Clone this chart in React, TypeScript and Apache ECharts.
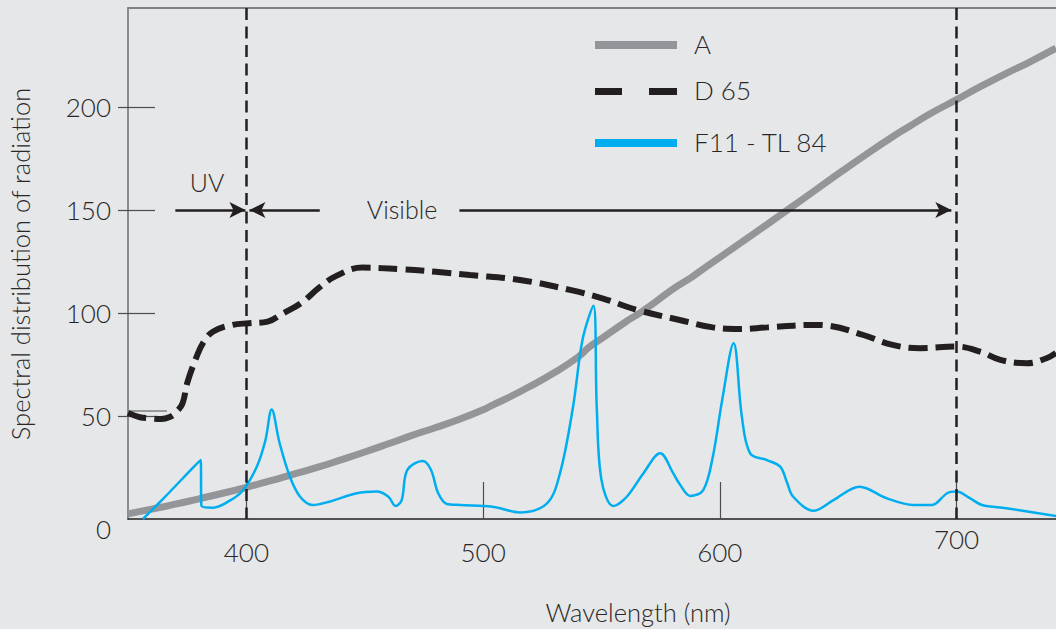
import React, { useEffect, useRef } from 'react';
import * as echarts from 'echarts';

// ---- data ----
const X_TICKS = [400, 500, 600, 700];
const Y_LABELS = [0, 50, 100, 150, 200];
const Y_TICKS = [50, 100, 150, 200];

const A_WAVELENGTHS = [350, 360, 370, 380, 390, 400, 410, 420, 431, 440, 450, 460, 470, 480, 490, 500, 504, 510, 520, 530, 540, 545, 550, 560, 566, 570, 580, 588, 594.5, 600, 610, 620, 628, 640, 651, 660, 672, 680, 689, 700, 710, 721, 730, 742];
const A_VALUES = [2.5, 4.8, 7.2, 9.8, 12.5, 15.4, 18.5, 21.8, 25.4, 28.7, 32.5, 36.5, 40.6, 44.4, 48.4, 53, 55.3, 58.5, 64.5, 71, 78.5, 83.6, 87.5, 95.5, 99.8, 103, 111.5, 117.3, 122.6, 127, 135, 143, 149.5, 159.3, 168.3, 175.5, 184.8, 190.5, 196.8, 203.5, 209.8, 216.3, 221.3, 228.5];

const D65_WAVELENGTHS = [350, 355, 360, 364, 368, 370, 373, 375, 379, 382, 386, 394, 401, 409, 415.5, 423, 431, 438, 449, 466, 480, 494.5, 515.6, 536.7, 550.7, 565, 583, 597, 608.6, 620, 639.5, 646.6, 660.6, 673, 684.6, 700, 710, 718.5, 729.7, 738, 742];
const D65_VALUES = [51.5, 49.4, 48.8, 48.5, 49.7, 51.5, 56, 66, 78.8, 86, 91, 94.2, 95, 95.8, 99.8, 104.7, 112.5, 118, 122, 121.2, 120, 118.4, 116, 111.2, 107, 101.5, 96.6, 93, 92.2, 93, 94.2, 93.7, 89.3, 84.5, 82.9, 83.7, 81.2, 77.2, 75.6, 78, 80.6];

const F11_WAVELENGTHS = [356.3, 365, 380.7, 381, 386, 393, 398.6, 404.4, 408, 410.7, 414, 418.4, 422.7, 428, 435, 446.6, 455, 460, 463, 465.6, 468, 474.5, 478, 481, 484.7, 490.3, 504, 515.6, 527, 532.5, 538, 542, 546.6, 548, 550, 555, 560.7, 567.6, 574.8, 580.4, 583, 587.5, 593, 597, 601, 605.8, 609.3, 612.8, 619.9, 625.5, 628.3, 631, 639.6, 648, 659, 670.6, 681.8, 689.6, 696, 700, 705.8, 710.7, 721, 742];
const F11_VALUES = [0, 10, 28.6, 6.5, 5.5, 8.9, 14, 25.4, 38, 53.2, 37, 20.5, 10.8, 6.8, 8.4, 12.5, 13.3, 10.8, 6.3, 9.2, 23.8, 28.1, 23.8, 12.6, 7.3, 6.8, 6, 3.2, 7.6, 22.3, 54.5, 87, 103.5, 54.5, 19, 6.3, 10.8, 22, 31.9, 22, 17, 11.2, 14, 30, 57.8, 85.3, 49.7, 31.9, 28.6, 25.4, 18, 10.8, 4, 9.2, 15.7, 10, 6.8, 6.8, 12.5, 13.3, 10, 6.8, 5.2, 1.5];

const SERIES_NAMES = ['A', 'D 65', 'F11 - TL 84'];
const UV_BOUNDARY = 400;
const VISIBLE_END = 700;
const ARROW_LEVEL = 150;

const FONT = 'Lato, "Open Sans", "Noto Sans", sans-serif';
const TEXT = '#2a2627';
const GREY = '#939598';
const BLACK = '#231f20';
const CYAN = '#00aeef';

const pairs = (xs: number[], ys: number[]) => xs.map((x, i) => [x, ys[i]]);

export default function App() {
  const ref = useRef<HTMLDivElement>(null);
  useEffect(() => {
    document.body.style.margin = '0';
    const chart = echarts.init(ref.current!, null, { renderer: 'svg' });
    const base = { fontSize: 26, fontFamily: FONT, fontWeight: 300, color: TEXT };
    const yLabelRich = {
      n: { ...base },
      z: { ...base, padding: [19, 0, 0, 0] },
    };
    const xLabelRich = {
      hi: { ...base },
      lo: { ...base, padding: [13, 0, 0, 0] },
    };
    const txt = (text: string, x: number, y: number, size: number, align = 'left', extra: any = {}) => ({
      type: 'text', x, y, ...extra,
      style: { text, fontSize: size, fontFamily: FONT, fontWeight: 300, fill: TEXT, align, verticalAlign: 'middle' },
    });
    const option: any = {
      animation: false,
      backgroundColor: '#e6e7e8',
      grid: { left: 128, right: 0, top: 8, bottom: 110, containLabel: false },
      xAxis: [
        {
          type: 'value', min: 350, max: 742, position: 'bottom',
          axisLine: { show: true, onZero: false, lineStyle: { color: BLACK, width: 1.5 } },
          axisTick: { show: true, inside: true, length: 37, customValues: X_TICKS, lineStyle: { color: '#4d4d4f', width: 1.2 } },
          axisLabel: {
            customValues: X_TICKS, margin: 7,
            formatter: (v: number) => (v === 700 ? `{hi|${v}}` : `{lo|${v}}`),
            rich: xLabelRich,
          },
          splitLine: { show: false },
        },
        {
          type: 'value', min: 350, max: 742, position: 'top',
          axisLine: { show: true, onZero: false, lineStyle: { color: '#808285', width: 2 } },
          axisTick: { show: false }, axisLabel: { show: false }, splitLine: { show: false },
        },
      ],
      yAxis: [
        {
          type: 'value', min: 0, max: 248, position: 'left',
          axisLine: { show: true, onZero: false, lineStyle: { color: '#6d6e71', width: 1.5 } },
          axisTick: { show: true, inside: true, length: 27, customValues: Y_TICKS, lineStyle: { color: '#4d4d4f', width: 1.2 } },
          axisLabel: {
            customValues: Y_LABELS, margin: 17,
            formatter: (v: number) => (v === 0 ? `{z|0}` : `{n|${v}}`),
            rich: yLabelRich,
          },
          splitLine: { show: false },
        },
        {
          type: 'value', min: 0, max: 248, position: 'left',
          axisLine: { show: false, onZero: false },
          axisTick: { show: true, inside: false, length: 10, customValues: Y_TICKS, lineStyle: { color: '#4d4d4f', width: 1.2 } },
          axisLabel: { show: false }, splitLine: { show: false },
        },
      ],
      series: [
        {
          type: 'line', name: 'guides', data: [], z: 1, silent: true,
          markLine: {
            silent: true, symbol: 'none', label: { show: false },
            lineStyle: { color: BLACK, width: 2.5, type: [12, 6.5] },
            data: [
              [{ coord: [UV_BOUNDARY, 248] }, { coord: [UV_BOUNDARY, 0] }],
              [{ coord: [VISIBLE_END, 248] }, { coord: [VISIBLE_END, 0] }],
            ],
          },
        },
        {
          type: 'line', name: 'arrows', data: [], z: 1, silent: true,
          markLine: {
            silent: true, symbol: ['none', 'arrow'], symbolSize: [12, 16], label: { show: false },
            lineStyle: { color: BLACK, width: 2.5, type: 'solid' },
            data: [
              [{ coord: [370, ARROW_LEVEL] }, { coord: [399.6, ARROW_LEVEL] }],
              [{ coord: [431, ARROW_LEVEL] }, { coord: [401.3, ARROW_LEVEL] }],
              [{ coord: [490, ARROW_LEVEL] }, { coord: [697.8, ARROW_LEVEL] }],
            ],
          },
        },
        {
          type: 'line', name: SERIES_NAMES[0], data: pairs(A_WAVELENGTHS, A_VALUES), z: 2,
          smooth: 0.5, showSymbol: false, symbol: 'none',
          lineStyle: { color: GREY, width: 7 },
        },
        {
          type: 'line', name: SERIES_NAMES[1], data: pairs(D65_WAVELENGTHS, D65_VALUES), z: 3,
          smooth: 0.4, showSymbol: false, symbol: 'none',
          lineStyle: { color: BLACK, width: 6, type: [19, 8] },
        },
        {
          type: 'line', name: SERIES_NAMES[2], data: pairs(F11_WAVELENGTHS, F11_VALUES), z: 4,
          smooth: 0.35, showSymbol: false, symbol: 'none',
          lineStyle: { color: CYAN, width: 2.5 },
        },
      ],
      graphic: [
        // legend
        { type: 'line', shape: { x1: 595, y1: 45, x2: 677, y2: 45 }, style: { stroke: GREY, lineWidth: 8 } },
        { type: 'line', shape: { x1: 595, y1: 91.5, x2: 622, y2: 91.5 }, style: { stroke: BLACK, lineWidth: 7 } },
        { type: 'line', shape: { x1: 649, y1: 91.5, x2: 677, y2: 91.5 }, style: { stroke: BLACK, lineWidth: 7 } },
        { type: 'line', shape: { x1: 595, y1: 143, x2: 677, y2: 143 }, style: { stroke: CYAN, lineWidth: 8 } },
        txt(SERIES_NAMES[0], 694, 44, 26),
        txt(SERIES_NAMES[1], 694, 90, 26),
        txt(SERIES_NAMES[2], 694, 142, 26),
        // annotations
        txt('UV', 207, 182, 25, 'center'),
        txt('Visible', 402, 209, 25, 'center'),
        // small rule near the 50 tick
        { type: 'line', shape: { x1: 128, y1: 411, x2: 167, y2: 411 }, style: { stroke: '#4d4d4f', lineWidth: 1.2 } },
        // axis titles
        txt('Wavelength (nm)', 638, 612, 25.5, 'center'),
        txt('Spectral distribution of radiation', 20, 264, 25.5, 'center', { rotation: Math.PI / 2 }),
      ],
    };
    chart.setOption(option);
    return () => chart.dispose();
  }, []);
  return (
    <div
      ref={ref}
      style={{ position: 'absolute', left: 0, top: 0, width: 1056, height: 629, background: '#e6e7e8' }}
    />
  );
}
